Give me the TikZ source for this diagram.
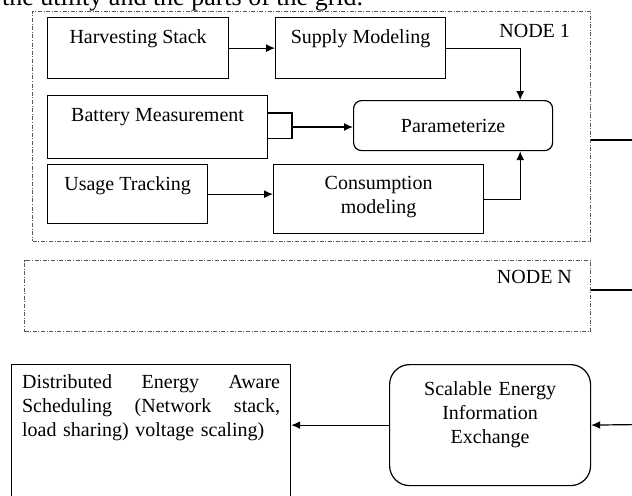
\documentclass[tikz,border=0pt]{standalone}
\usepackage{fontspec}
\setmainfont{Liberation Serif}
\usetikzlibrary{arrows.meta, positioning}

\begin{document}
\begin{tikzpicture}[x=0.5pt, y=-0.5pt, every node/.style={font=\fontsize{10}{12}\selectfont},
  blk/.style={draw, rectangle, anchor=north west, inner sep=0pt, line width=0.6pt},
  rblk/.style={blk, rounded corners=#1}, rblk/.default=4pt,
  grp/.style={draw=black!65, rectangle, anchor=north west, inner sep=0pt, line width=0.5pt,
    dash pattern=on 2pt off 0.8pt on 0.5pt off 0.8pt},
  arr/.style={line width=0.6pt, -{Latex[length=4.5pt, width=4pt]}}]
\clip (0,0) rectangle (632,495);
% caption line cut by the top edge
\node[anchor=base west, font=\fontsize{13}{15}\selectfont] (cap) at (-5,5.5) {the utility and the parts of the grid.};
% node groups
\node[grp, minimum width=279pt, minimum height=115pt] (node1) at (32,10.5) {};
\node[anchor=base east] (lab1) at (577,37) {NODE 1};
\node[grp, minimum width=283pt, minimum height=35.5pt] (nodeN) at (24,260) {};
\node[anchor=base east] (labN) at (579,283) {NODE N};
% blocks of node 1
\node[blk, minimum width=90.5pt, text height=13pt, text depth=17.5pt] (harv) at (47,17) {Harvesting Stack};
\node[blk, minimum width=85pt, text height=13pt, text depth=17.5pt] (supp) at (275,17) {Supply Modeling};
\node[blk, minimum width=110pt, text height=13pt, text depth=18.5pt] (batt) at (47,95) {Battery Measurement};
\node[rblk, minimum width=99.5pt, minimum height=25pt] (param) at (353,100) {Parameterize};
\node[blk, minimum width=80pt, text height=13pt, text depth=16.5pt] (usage) at (47,164) {Usage Tracking};
\node[blk, minimum width=105pt, text width=100pt, align=center, text height=12.5pt, text depth=22pt] (cons) at (273,164) {Consumption\\modeling};
% bottom row
\node[blk, minimum width=139.5pt, text width=129pt, align=left, text height=12pt, text depth=63pt] (dist) at (11,364)
  {\makebox[129pt][l]{Distributed\hfill Energy\hfill Aware}\\\makebox[129pt][l]{Scheduling\hfill (Network\hfill stack,}\\load sharing) voltage scaling)};
\node[rblk=10pt, minimum width=100.5pt, text width=95pt, align=center, text height=15.5pt, text depth=45pt] (scal) at (389,364)
  {Scalable Energy\\Information\\Exchange};
% connectors
\coordinate (bkt) at (292,127);
\coordinate (out1) at (640,140);
\coordinate (outN) at (640,290);
\coordinate (inS) at (640,424.5);
\draw[arr] (harv) -- (supp);
\draw[arr] (supp.east) -| ([xshift=-16.5pt]param.north east);
\draw[line width=0.6pt] (batt.east |- 0,113) -| (bkt) |- (batt.east |- 0,138.5);
\draw[arr] (bkt) -- (bkt -| param.west);
\draw[arr] (usage.east) -- (usage.east -| cons.west);
\draw[arr] (cons.east) -| ([xshift=-16.5pt]param.south east);
\draw[line width=0.6pt] (out1 -| node1.east) -- (out1);
\draw[line width=0.6pt] (outN -| nodeN.east) -- (outN);
\draw[arr] (inS) -- (scal.east);
\draw[arr] (scal.west) -- (scal.west -| dist.east);
\end{tikzpicture}
\end{document}
